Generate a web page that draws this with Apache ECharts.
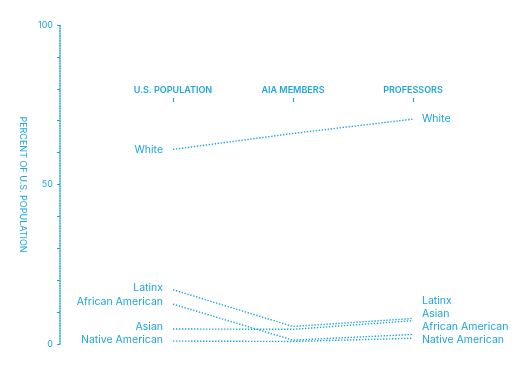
<!DOCTYPE html>
<html><head><meta charset="utf-8">
<script src="https://cdn.jsdelivr.net/npm/echarts@6/dist/echarts.min.js"></script>
<style>html,body{margin:0;padding:0;background:#fff}#c{width:531px;height:367px}</style>
</head><body><div id="c"></div>
<script>
var categories = ['U.S. POPULATION', 'AIA MEMBERS', 'PROFESSORS'];
var seriesNames = ['White', 'Latinx', 'Asian', 'African American', 'Native American'];
var white = [61, 66, 70.5];
var latinx = [17, 5.5, 8];
var asian = [4.7, 4.6, 7.3];
var africanAmerican = [12.5, 1.2, 3.0];
var nativeAmerican = [0.9, 0.8, 1.8];
var yTickLabels = [0, 50, 100];

var C = '#1ea5dc';
var GRID_TOP = 25, GRID_H = 319;
function yPix(v){ return GRID_TOP + GRID_H * (1 - v / 100); }

var dataSets = [white, latinx, asian, africanAmerican, nativeAmerican];
var rightRank = {4: 0, 3: 1, 2: 2, 1: 3};
var leftShift = {1: -2, 2: -2, 3: -2, 4: -1};

var series = dataSets.map(function(arr, si){
  return {
    name: seriesNames[si],
    type: 'line',
    xAxisIndex: 0, yAxisIndex: 0,
    data: arr.map(function(v, di){
      if (di === 0) return {value: v, label: {show: true, position: 'left', distance: 10}};
      if (di === 2) return {value: v, label: {show: true, position: 'right', distance: 9}};
      return v;
    }),
    symbol: 'circle',
    symbolSize: 0,
    showSymbol: true,
    itemStyle: {color: C},
    lineStyle: {color: C, width: 1.4, type: [1.4, 1.6]},
    label: {show: false, color: C, fontFamily: 'Inter', fontSize: 10.5, formatter: seriesNames[si]},
    labelLayout: function(p){
      if (si === 0) return {};
      if (p.dataIndex === 0) return {dy: leftShift[si]};
      if (p.dataIndex === 2) {
        var base = yPix(nativeAmerican[2]) + 2;
        return {y: base - rightRank[si] * 13.3, verticalAlign: 'middle'};
      }
      return {};
    },
    silent: true,
    animation: false
  };
});

var chart = echarts.init(document.getElementById('c'), null, {renderer: 'canvas'});
chart.setOption({
  backgroundColor: '#fff',
  animation: false,
  grid: [
    {left: 113, width: 360, top: GRID_TOP, height: GRID_H},
    {left: 113, width: 360, top: 92, height: 10}
  ],
  xAxis: [{
    type: 'category', gridIndex: 0, data: categories, boundaryGap: true,
    axisLine: {show: false}, axisTick: {show: false}, axisLabel: {show: false}, splitLine: {show: false}
  }, {
    type: 'category', gridIndex: 1, data: categories, position: 'top', boundaryGap: true,
    axisLine: {show: false},
    axisTick: {show: true, inside: false, alignWithLabel: true, length: 4, lineStyle: {color: C, width: 1.2}},
    axisLabel: {color: C, fontFamily: 'Inter', fontWeight: 600, fontSize: 9, margin: -3},
    splitLine: {show: false}
  }],
  yAxis: [{
    type: 'value', gridIndex: 0,
    min: 0, max: 100, interval: 10,
    offset: 53,
    name: 'PERCENT OF U.S. POPULATION',
    nameLocation: 'middle',
    nameRotate: -90,
    nameGap: 28,
    nameTextStyle: {color: C, fontFamily: 'Inter', fontSize: 9},
    axisLine: {show: true, lineStyle: {color: C, width: 1.5, type: [1, 1.5]}},
    axisTick: {show: true, length: 3, lineStyle: {color: C, width: 1}},
    axisLabel: {
      color: C, fontFamily: 'Inter', fontSize: 9, margin: 7,
      formatter: function(v){ return yTickLabels.indexOf(v) >= 0 ? String(v) : ''; }
    },
    splitLine: {show: false}
  }, {
    type: 'value', gridIndex: 1, show: false
  }],
  series: series
});
</script></body></html>
